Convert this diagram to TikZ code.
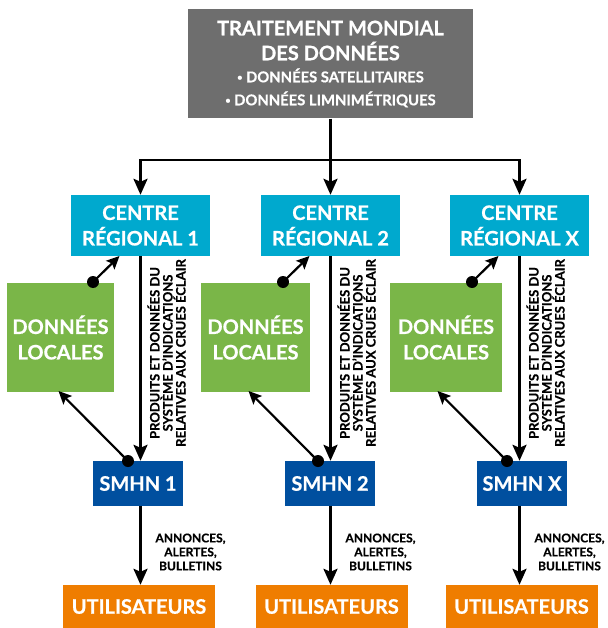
\documentclass[tikz,border=0pt]{standalone}
\usepackage{fontspec}
\setmainfont{Lato}[BoldFeatures={FakeBold=0.6}]
\usetikzlibrary{arrows.meta,calc}
\definecolor{greybox}{HTML}{6E6E6E}
\definecolor{cyanbox}{HTML}{00A9CE}
\definecolor{greenbox}{HTML}{7AB648}
\definecolor{bluebox}{HTML}{004F9F}
\definecolor{orangebox}{HTML}{EF7D00}
\newcommand{\smallbullet}{\raisebox{0.12em}{\fontsize{9}{9}\selectfont •}}
\begin{document}
\begin{tikzpicture}[x=1pt,y=-1pt,
  basebox/.style={draw=none, inner sep=0pt, align=center, text=white,
    font=\bfseries\fontsize{20}{25.5}\selectfont},
  topbox/.style={basebox, fill=greybox, minimum width=285pt, minimum height=109pt,
    font=\bfseries\fontsize{20}{25}\selectfont},
  cbox/.style={basebox, fill=cyanbox, minimum width=139pt, minimum height=61pt},
  gbox/.style={basebox, fill=greenbox, minimum height=109pt},
  sbox/.style={basebox, fill=bluebox, minimum width=90pt, minimum height=45pt},
  ubox/.style={basebox, fill=orangebox, minimum width=152pt, minimum height=43pt},
  rotlab/.style={rotate=90, align=center, inner sep=0pt,
    font=\bfseries\fontsize{13}{13}\selectfont},
  smalllab/.style={align=center, inner sep=0pt,
    font=\bfseries\fontsize{12}{14}\selectfont},
  dotnode/.style={circle, fill=black, minimum size=12pt, inner sep=0pt},
  bigarrow/.style={line width=2.6pt, -{Stealth[length=16pt,width=14pt,inset=3pt]}},
  bigline/.style={line width=2.6pt},
  smallarrow/.style={line width=2.2pt, -{Stealth[length=13pt,width=12pt,inset=2.5pt]}}
]
\useasboundingbox (0,0) rectangle (607,628);

\node[topbox] (top) at (330.5,64) {TRAITEMENT MONDIAL\\DES DONNÉES\\[-3pt]
  {\fontsize{14.8}{15}\selectfont \smallbullet\ DONNÉES SATELLITAIRES}\\[-2pt]
  {\fontsize{14.8}{15}\selectfont \smallbullet\ DONNÉES LIMNIMÉTRIQUES}};

\coordinate (junction) at (330.5,160);

\foreach \i/\lx/\gx/\gw/\ux/\sx/\lab in
  {1/140.5/60.5/107/139/138/1, 2/330.5/255.5/109/331.5/330/2, 3/519.5/446/112/521.5/522/X} {
  \node[cbox] (c\i) at (\lx,225.5) {CENTRE\\RÉGIONAL \lab};
  \node[gbox, minimum width=\gw pt] (g\i) at (\gx,337.5) {DONNÉES\\LOCALES};
  \node[sbox] (s\i) at (\sx,483.5) {SMHN \lab};
  \node[ubox] (u\i) at (\ux,606.5) {UTILISATEURS};
  \node[rotlab] (r\i) at (\lx+26,353) {PRODUITS ET DONNÉES DU\\SYSTÈME D’INDICATIONS\\RELATIVES AUX CRUES ÉCLAIR};
  \node[smalllab] (a\i) at (\lx+50,552) {ANNONCES,\\ALERTES,\\BULLETINS};
  \node[dotnode] (p\i) at (\lx-47.5,282) {};
  \node[dotnode] (q\i) at (\lx-12.5,461) {};
  \coordinate (pt\i) at (\lx-21,256);
  \coordinate (qt\i) at (\lx-82,391);
  \draw[bigarrow] (c\i.south) -- (c\i.south |- s\i.north);
  \draw[bigarrow] (c\i.south |- s\i.south) -- (c\i.south |- u\i.north);
  \draw[smallarrow] (p\i.center) -- (pt\i);
  \draw[smallarrow] (q\i.center) -- (qt\i);
}

\draw[bigline] (top.south) -- (junction);
\draw[bigarrow] (junction) -| (c1.north);
\draw[bigarrow] (junction) -| (c3.north);
\draw[bigarrow] (junction) -- (c2.north);
\end{tikzpicture}
\end{document}
